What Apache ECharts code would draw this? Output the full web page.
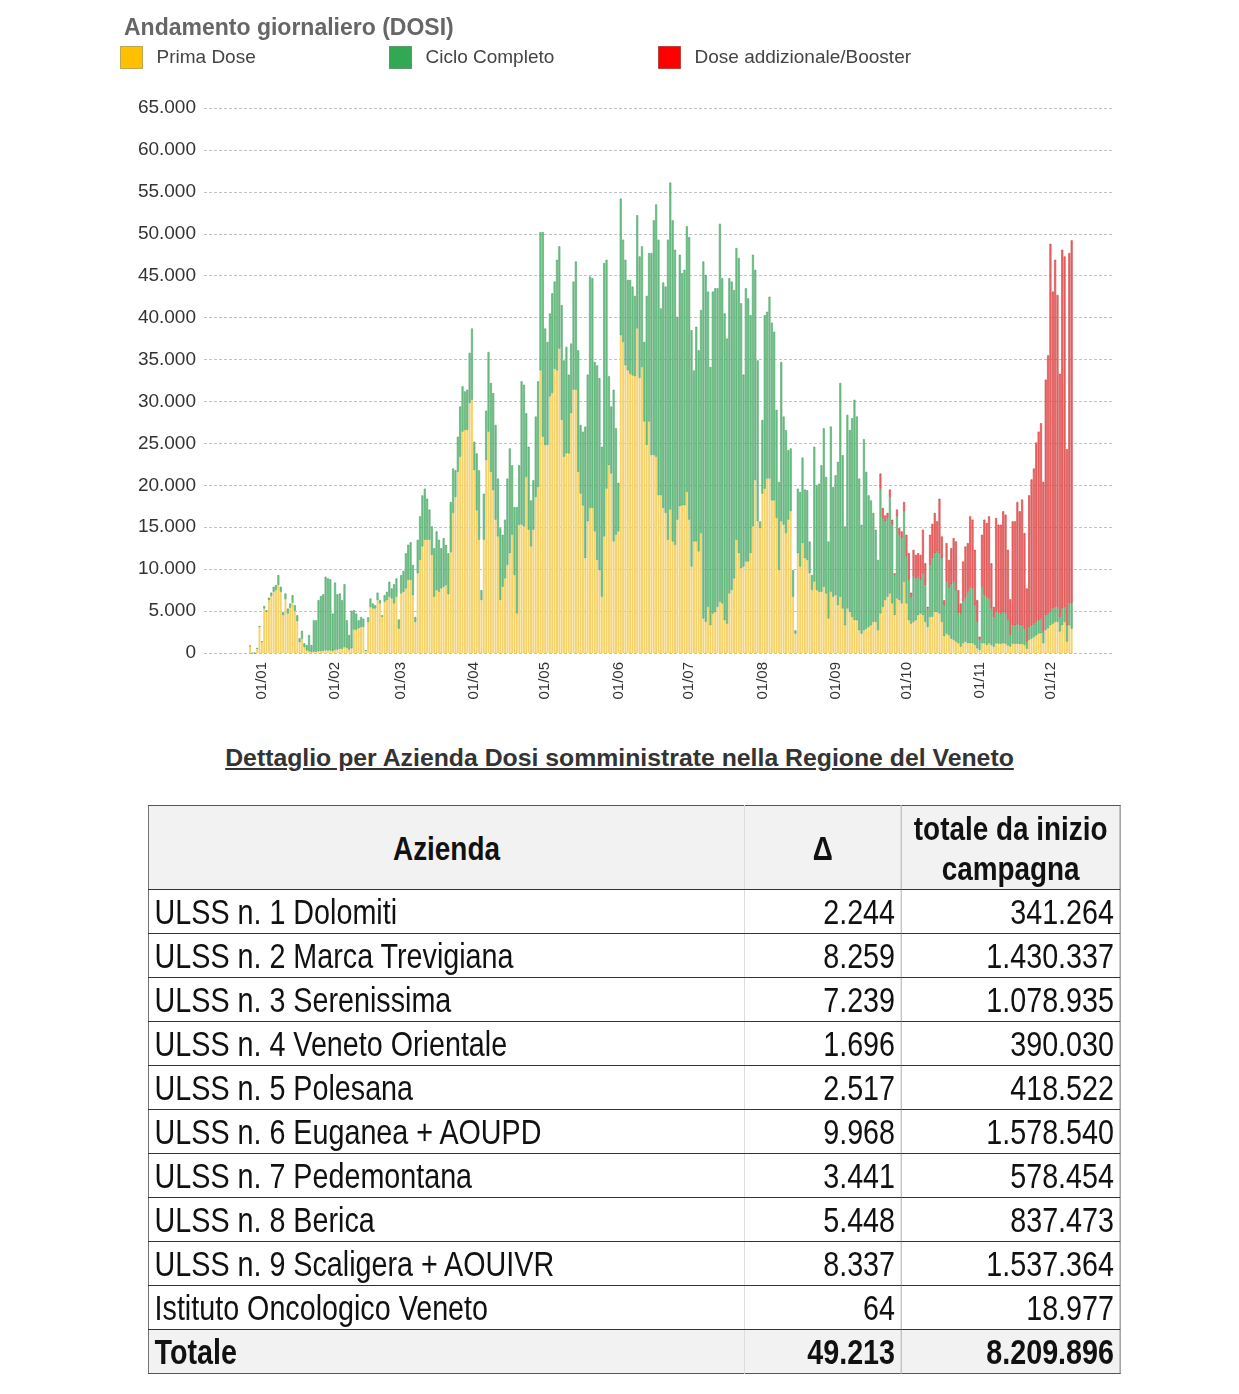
<!DOCTYPE html>
<html>
<head>
<meta charset="utf-8">
<script src="https://cdn.jsdelivr.net/npm/echarts@6/dist/echarts.min.js"></script>
<style>
html,body{margin:0;padding:0;background:#fff;width:1239px;height:1394px;overflow:hidden;}
#chart{position:absolute;left:0;top:0;width:1239px;height:720px;}
#subtitle{position:absolute;left:0;width:1239px;top:744px;text-align:center;font-family:'Liberation Sans',Arial,sans-serif;font-weight:bold;font-size:24.8px;line-height:28px;color:#333;text-decoration:underline;}
#tblwrap{position:absolute;left:148px;top:805px;width:1185px;transform:scaleX(0.82);transform-origin:0 0;}
#tbl{width:1185px;border-collapse:collapse;table-layout:fixed;border:1.5px solid #555;font-family:'Liberation Sans',Arial,sans-serif;color:#111;}
#tbl td,#tbl th{padding:0 7px;overflow:hidden;white-space:nowrap;}
#tbl th{height:83px;background:#f2f2f2;font-weight:bold;font-size:34px;line-height:40px;text-align:center;border-bottom:1px solid #333;}
#tbl td{height:43px;font-size:35px;line-height:41px;border-bottom:1px solid #333;}
#tbl .c1{border-right:1px solid #d6d6d6;text-align:left;}
#tbl .c2{border-right:1px solid #999;text-align:right;}
#tbl .c3{text-align:right;}
#tbl tr.tot td{background:#f2f2f2;font-weight:bold;border-bottom:none;}
</style>
</head>
<body>
<div id="chart"></div>
<div id="subtitle">Dettaglio per Azienda Dosi somministrate nella Regione del Veneto</div>
<div id="tblwrap"><table id="tbl"></table></div>
<script>
// ---------------- CHART DATA ----------------
// Daily values from 27/12/2020 to 10/12/2021 (one value per day)
const firstDataDate = '2020-12-27';
const axisStart = '2020-12-08';
const axisEnd = '2021-12-27';
const seriesNames = ['Prima Dose', 'Ciclo Completo', 'Dose addizionale/Booster'];

const primaDose = [
  // dic 2020
  850,0,0,550,3150,
  // gen
  1350,5300,4900,6300,6800,7300,7500,8100,7300,4500,6400,4700,5400,6000,5000,3800,1300,1700,700,300,200,100,150,150,200,250,250,300,300,300,200,
  // feb
  400,400,500,500,700,600,400,550,2800,2750,2950,3100,3100,300,3700,5500,5300,5300,6300,5900,4300,6100,6300,6700,6500,5900,6700,2900,
  // mar
  7100,7300,7700,8700,8700,6900,3700,9500,11100,12700,13500,13500,13500,11700,6700,7500,7300,7700,7900,8100,7000,12000,16700,18600,21600,23400,26400,26600,26600,29800,30200,
  // apr
  21800,17000,13500,6300,13500,23000,26400,21600,19400,15900,13900,6300,7900,8900,10500,11900,14100,9300,4700,15300,15300,15100,21000,14700,12700,14700,18600,19800,33700,25800,
  // mag
  24800,24800,30600,31000,33900,33700,36300,27800,23400,23800,23800,28600,31400,31400,21600,19000,17600,11300,15700,17300,17300,14500,11100,9900,6700,13900,19600,22400,21400,13300,14100,
  // giu
  14500,37900,37100,34300,33700,33300,33100,33000,38700,32800,34100,27600,24800,27600,23600,23600,23400,18800,18800,17300,16700,13500,17100,13300,12900,15900,17500,17600,17600,19200,
  // lug
  15900,10300,13300,13300,12100,14300,4100,3700,5500,3300,4700,4900,5500,6100,5900,3900,3500,7100,7500,8900,13500,11900,10100,10300,10900,10900,11900,15100,20600,15700,14900,
  // ago
  19000,19600,20800,20800,18200,18200,16100,9900,15700,15300,14300,15900,16900,6700,2300,11900,10300,13100,11300,11100,9500,7500,8500,7500,7300,7300,7900,7100,4100,7300,6700,
  // set
  6900,5700,6700,5300,3300,5300,4900,4300,3900,3900,2700,2300,2700,2900,3100,3300,3700,3700,2700,4700,5500,6300,6700,7100,5900,4500,6500,6300,5900,8500,
  // ott
  5900,3900,3500,3700,3900,4500,4700,4500,3700,3100,4300,4300,4900,4900,4700,3700,2000,2300,2100,1700,1550,1350,1150,750,1150,1350,1150,1150,1150,950,550,
  // nov
  350,1150,1150,950,1150,950,750,1150,1100,1100,1150,1100,900,750,1100,1100,1100,1050,1100,950,500,1550,1700,1900,2100,2300,2350,1150,2750,2950,
  // dic 2021
  3300,3500,3700,3700,2550,3300,3700,1350,3300,2900
];

const cicloCompleto = [
  // dic 2020
  0,0,0,0,0,
  // gen
  0,300,200,300,400,600,600,1200,600,400,700,600,500,900,700,700,450,950,450,650,1950,850,3750,3750,6100,6550,6750,8800,8600,8500,4500,
  // feb
  8000,6600,6600,5800,7500,3300,1750,4500,2300,1950,950,1200,1000,0,550,1000,600,400,900,400,200,800,1000,1800,1200,2300,2200,1100,
  // mar
  2200,2500,4200,4200,4500,3600,600,4000,5200,6100,6100,4900,3600,3400,5800,7000,6200,4800,5800,4800,4900,6000,5300,3200,4200,6000,5400,4600,4800,6000,8500,
  // apr
  3400,6800,8300,1200,5500,5900,9500,10600,11600,11300,6900,8600,6200,7000,10300,12500,8300,8100,12700,7100,17100,16900,7600,9900,5500,5900,9600,12600,16500,24400,
  // mag
  13900,12300,9900,11900,10400,13200,12200,13700,11500,12700,9400,8300,12900,15300,14500,8200,8800,15700,17500,27600,27400,20200,23200,22900,17900,32600,27300,10600,8000,18100,12700,
  // giu
  5800,16300,12200,12600,10800,11200,10600,9600,13500,14500,14400,9500,17800,20100,24100,28000,30100,30500,22300,26900,27000,35800,39000,38300,35200,24200,30000,27700,28100,31700,
  // lug
  33700,28200,20400,25600,24000,26600,42600,41400,37600,30800,38400,38600,38000,45100,38800,36600,34000,37600,36800,34400,34800,35200,31600,22900,32600,31400,28400,32400,25100,19200,800,
  // ago
  8800,20700,19900,21700,21200,20100,12900,10500,19000,12900,12300,8300,7500,3200,400,7700,8900,10200,8200,8300,3800,1800,16100,12500,12900,15100,18900,13900,9200,19700,13100,
  // set
  14300,17100,25500,18300,11800,23100,21700,23700,26300,24300,18100,13000,22800,18700,15700,14900,13000,11000,8400,14900,10600,9400,9400,11500,9400,4800,9800,7800,7800,8400,
  // ott
  5600,4800,3200,5400,5000,4600,4000,5000,4400,2200,6200,7000,7000,7200,7200,7600,3700,6200,5700,6500,6950,6150,3550,3950,5050,5250,6150,6750,6550,4750,3150,
  // nov
  1200,6750,5750,5750,5350,4350,3550,3850,3700,3600,3750,3700,3100,1400,2200,2200,2300,2250,2200,1950,850,1550,1600,1600,1600,1600,1750,1400,1750,1750,
  // dic 2021
  1700,1800,1800,1800,1750,2000,1800,1950,2600,3000
];

// Booster doses: first value on 20/09/2021
const boosterStartDate = '2021-09-20';
const doseBooster = [
  // set
  1800,1200,700,600,900,600,200,800,800,800,1100,
  // ott
  2600,3200,500,3200,2800,2800,3000,5200,2600,200,3600,4100,4800,3600,6500,2600,600,4600,3300,4300,5200,5800,2800,1200,4700,6100,5800,8400,8200,6600,2600,
  // nov
  400,6200,9000,8800,9800,5400,1200,11100,10500,10600,12000,11700,8300,4250,12400,12400,14600,13600,15000,11400,6350,15700,17400,18500,21400,22500,23300,17850,28100,30800,
  // dic
  43800,37800,41400,37200,29000,42800,41800,21000,41800,43313
];

const yTicks = {min: 0, max: 65000, step: 5000};

// ---------------- TABLE DATA ----------------
const aziende = ['ULSS n. 1 Dolomiti','ULSS n. 2 Marca Trevigiana','ULSS n. 3 Serenissima','ULSS n. 4 Veneto Orientale','ULSS n. 5 Polesana','ULSS n. 6 Euganea + AOUPD','ULSS n. 7 Pedemontana','ULSS n. 8 Berica','ULSS n. 9 Scaligera + AOUIVR','Istituto Oncologico Veneto'];
const delta = [2244, 8259, 7239, 1696, 2517, 9968, 3441, 5448, 8337, 64];
const totaleCampagna = [341264, 1430337, 1078935, 390030, 418522, 1578540, 578454, 837473, 1537364, 18977];
const headers = ['Azienda', 'Δ', ['totale da inizio', 'campagna']];
const totaleLabel = 'Totale';
const totaleDelta = 49213;
const totaleTot = 8209896;

// ---------------- BUILD ----------------
function fmt(v){ return String(v).replace(/\B(?=(\d{3})+(?!\d))/g, '.'); }
function dayList(a, b){
  const out = [];
  let t = Date.UTC(+a.slice(0,4), +a.slice(5,7)-1, +a.slice(8,10));
  const e = Date.UTC(+b.slice(0,4), +b.slice(5,7)-1, +b.slice(8,10));
  while (t <= e){ out.push(new Date(t).toISOString().slice(0,10)); t += 86400000; }
  return out;
}
const cats = dayList(axisStart, axisEnd);
function place(arr, start){
  const off = cats.indexOf(start);
  const out = new Array(cats.length).fill(null);
  arr.forEach((v,i)=>{ out[off+i] = v; });
  return out;
}

const chart = echarts.init(document.getElementById('chart'), null, {renderer:'canvas'});
const legendText = {fontSize:19, color:'#444', fontFamily:'Liberation Sans', padding:[0,0,0,9]};
chart.setOption({
  animation:false,
  title:{text:'Andamento giornaliero (DOSI)', left:124, top:17, padding:0,
    textStyle:{fontSize:23, fontWeight:'bold', color:'#666', fontFamily:'Liberation Sans'}},
  legend:[
    {left:120, top:46, padding:0, itemWidth:22, itemHeight:22, textStyle:legendText,
     data:[{name:seriesNames[0], icon:'rect', itemStyle:{color:'#FFC000', borderColor:'#7d6a20', borderWidth:1, borderType:'dotted'}}]},
    {left:389, top:46, padding:0, itemWidth:22, itemHeight:22, textStyle:legendText,
     data:[{name:seriesNames[1], icon:'rect', itemStyle:{color:'#33A852', borderColor:'#1c5a2c', borderWidth:1, borderType:'dotted'}}]},
    {left:658, top:46, padding:0, itemWidth:22, itemHeight:22, textStyle:legendText,
     data:[{name:seriesNames[2], icon:'rect', itemStyle:{color:'#FF0000', borderColor:'#7a0000', borderWidth:1, borderType:'dotted'}}]}
  ],
  grid:{left:204, right:126, top:108, bottom:67},
  xAxis:{type:'category', data:cats, boundaryGap:true,
    axisLine:{show:false}, axisTick:{show:false}, splitLine:{show:false},
    axisLabel:{interval:(i,v)=>v.slice(8)==='01', formatter:v=>v.slice(8)+'/'+v.slice(5,7),
      rotate:90, fontSize:15, color:'#333', margin:9, fontFamily:'Liberation Sans'}},
  yAxis:{type:'value', min:yTicks.min, max:yTicks.max, interval:yTicks.step,
    axisLine:{show:false}, axisTick:{show:false},
    axisLabel:{formatter:fmt, fontSize:19, color:'#333', margin:8, fontFamily:'Liberation Sans'},
    splitLine:{lineStyle:{type:[3,2], color:'#c2c2c2', width:1}}},
  series:[
    {name:seriesNames[0], type:'bar', stack:'dosi', barCategoryGap:'18%',
     data:place(primaDose, firstDataDate), itemStyle:{color:'#F5D36A'}},
    {name:seriesNames[1], type:'bar', stack:'dosi',
     data:place(cicloCompleto, firstDataDate), itemStyle:{color:'#76C68E', borderColor:'#3A9A58', borderWidth:0.5}},
    {name:seriesNames[2], type:'bar', stack:'dosi',
     data:place(doseBooster, boosterStartDate), itemStyle:{color:'#EE7474', borderColor:'#CC2525', borderWidth:0.5}}
  ]
});

// table
const tbl = document.getElementById('tbl');
let html = '<colgroup><col style="width:727px"><col style="width:191px"><col style="width:267px"></colgroup>';
html += '<tr><th class="c1" style="text-align:center">'+headers[0]+'</th><th class="c2" style="text-align:center">'+headers[1]+'</th><th class="c3" style="text-align:center">'+headers[2].join('<br>')+'</th></tr>';
aziende.forEach((a,i)=>{
  html += '<tr><td class="c1">'+a+'</td><td class="c2">'+fmt(delta[i])+'</td><td class="c3">'+fmt(totaleCampagna[i])+'</td></tr>';
});
html += '<tr class="tot"><td class="c1">'+totaleLabel+'</td><td class="c2">'+fmt(totaleDelta)+'</td><td class="c3">'+fmt(totaleTot)+'</td></tr>';
tbl.innerHTML = html;
</script>
</body>
</html>
